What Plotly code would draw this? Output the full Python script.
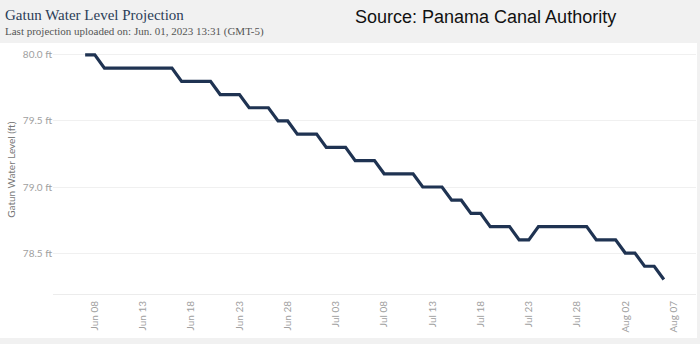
import pandas as pd
import plotly.graph_objects as go

start_date = "2023-06-07"
levels = [80.0, 80.0,
          79.9, 79.9, 79.9, 79.9, 79.9, 79.9, 79.9, 79.9,
          79.8, 79.8, 79.8, 79.8,
          79.7, 79.7, 79.7,
          79.6, 79.6, 79.6,
          79.5, 79.5,
          79.4, 79.4, 79.4,
          79.3, 79.3, 79.3,
          79.2, 79.2, 79.2,
          79.1, 79.1, 79.1, 79.1,
          79.0, 79.0, 79.0,
          78.9, 78.9,
          78.8, 78.8,
          78.7, 78.7, 78.7,
          78.6, 78.6,
          78.7, 78.7, 78.7, 78.7, 78.7, 78.7,
          78.6, 78.6, 78.6,
          78.5, 78.5,
          78.4, 78.4,
          78.3]
dates = pd.date_range(start_date, periods=len(levels), freq="D")

x_tick_dates = ["2023-06-08", "2023-06-13", "2023-06-18", "2023-06-23", "2023-06-28",
                "2023-07-03", "2023-07-08", "2023-07-13", "2023-07-18", "2023-07-23",
                "2023-07-28", "2023-08-02", "2023-08-07"]
x_tick_labels = ["Jun 08", "Jun 13", "Jun 18", "Jun 23", "Jun 28", "Jul 03", "Jul 08",
                 "Jul 13", "Jul 18", "Jul 23", "Jul 28", "Aug 02", "Aug 07"]
y_tick_vals = [78.5, 79.0, 79.5, 80.0]
y_tick_labels = ["78.5 ft", "79.0 ft", "79.5 ft", "80.0 ft"]

fig = go.Figure()
fig.add_trace(go.Scatter(
    x=dates, y=levels, mode="lines",
    line=dict(color="#1f3352", width=3.2),
    hoverinfo="skip", showlegend=False,
))

tick_font = dict(family="Lato, Open Sans, sans-serif", size=10, color="#a0a0a0")

fig.update_layout(
    width=700, height=344,
    margin=dict(l=53, r=4, t=45, b=50),
    paper_bgcolor="#f1f1f1",
    plot_bgcolor="white",
    xaxis=dict(
        type="date",
        range=["2023-06-03 16:00", "2023-08-09 08:00"],
        tickvals=x_tick_dates, ticktext=x_tick_labels,
        tickangle=-90, tickfont=tick_font,
        showgrid=False, zeroline=False,
        showline=True, linecolor="#ececec", linewidth=1,
        ticks="", ticklabelstandoff=2,
    ),
    yaxis=dict(
        range=[78.19, 80.075],
        tickvals=y_tick_vals, ticktext=y_tick_labels,
        tickfont=tick_font,
        showgrid=True, gridcolor="#f0f0f0", gridwidth=1,
        zeroline=False, showline=False, ticks="",
    ),
    shapes=[dict(
        type="rect", xref="paper", yref="paper",
        x0=-0.09, x1=1.0016, y0=-0.1767, y1=1.008,
        fillcolor="white", line=dict(width=0), layer="below",
    )],
    annotations=[
        dict(text="Gatun Water Level Projection", xref="paper", yref="paper",
             x=-0.0775, y=1.121, xanchor="left", yanchor="middle", showarrow=False,
             font=dict(family="Liberation Serif, serif", size=15, color="#2b3d57")),
        dict(text="Last projection uploaded on: Jun. 01, 2023 13:31 (GMT-5)",
             xref="paper", yref="paper",
             x=-0.0775, y=1.056, xanchor="left", yanchor="middle", showarrow=False,
             font=dict(family="Liberation Serif, serif", size=11, color="#555555")),
        dict(text="Source: Panama Canal Authority", xref="paper", yref="paper",
             x=0.467, y=1.112, xanchor="left", yanchor="middle", showarrow=False,
             font=dict(family="Liberation Sans, Arial, sans-serif", size=18, color="#111111")),
        dict(text="Gatun Water Level (ft)", xref="paper", yref="paper",
             x=-0.0665, y=0.50, xanchor="center", yanchor="middle", showarrow=False,
             textangle=-90,
             font=dict(family="Lato, Open Sans, sans-serif", size=10, color="#777777")),
    ],
)

fig.write_html("out.html")
